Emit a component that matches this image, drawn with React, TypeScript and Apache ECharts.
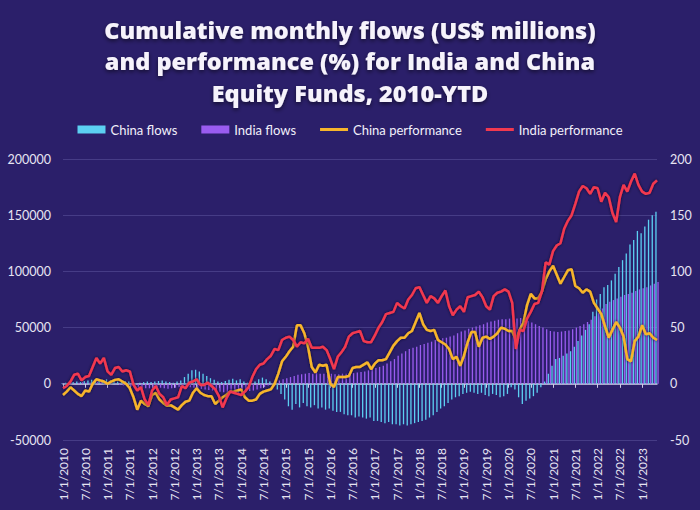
import React, { useEffect, useRef } from "react";
import * as echarts from "echarts";

const TITLE = "Cumulative monthly flows (US$ millions)\nand performance (%) for India and China\nEquity Funds, 2010-YTD";
const START_YEAR = 2010;
const MONTH_COUNT = 161;

const chinaFlows: number[] = [
  500, 1000, 800, 1500, 2000, 1500, 2500, 3000, 3500, 4000,
  3000, 3500, 4000, 3000, 2500, 2000, 1500, 2500, 2000, 1000,
  500, 1000, 1500, 2000, 1500, 2000, 2500, 3000, 2000, 1500,
  1000, 2000, 3000, 6000, 9000, 12000, 12500, 11000, 9000, 7000,
  5000, 3500, 2000, 1500, 2500, 3500, 4500, 3000, 4000, 2000,
  1000, 500, 2000, 4000, 5500, 4000, 2000, -1000, -5000, -9000,
  -14000, -20000, -23000, -18000, -21000, -17000, -20000, -21000, -19000, -22000,
  -21000, -23000, -22000, -24000, -25000, -25000, -27000, -28000, -28000, -30000,
  -29000, -30000, -31000, -30000, -33000, -33000, -34000, -35000, -34000, -36000,
  -36000, -37000, -36000, -37000, -36000, -35000, -34000, -33000, -32000, -30000,
  -28000, -25000, -22000, -20000, -17000, -14000, -12000, -11000, -9000, -8000,
  -7000, -8000, -9000, -8000, -10000, -11000, -9000, -10000, -12000, -11000,
  -9000, -3000, -5000, -12000, -18000, -15000, -13000, -11000, -8000, -3000,
  2000, 9000, 16000, 22000, 23000, 25000, 27000, 29000, 33000, 38000,
  43000, 48000, 53000, 64000, 75000, 80000, 86000, 88000, 92000, 98000,
  104000, 110000, 116000, 124000, 128000, 136000, 134000, 140000, 146000, 150000,
  153000,
];

const indiaFlows: number[] = [
  500, 800, 1000, 500, 1000, 1500, 1000, 1200, 1500, 2000,
  1500, 1000, 500, 0, -500, -1000, -1500, -2000, -2500, -3000,
  -3500, -3500, -4000, -4000, -3500, -3000, -3500, -4000, -4500, -4000,
  -3500, -3000, -3000, -2500, -3000, -3500, -4000, -4500, -5000, -5500,
  -6000, -6500, -7000, -7500, -8000, -8000, -8500, -8000, -7500, -7000,
  -6500, -6000, -5000, -4000, -3000, -1500, 0, 1500, 3000, 4000,
  5000, 6000, 7000, 8000, 8500, 9000, 9500, 9000, 9500, 9000,
  9000, 8500, 9000, 8500, 8500, 9000, 9000, 9500, 9500, 10000,
  10500, 11000, 12000, 13000, 14000, 15000, 16000, 18000, 20000, 22000,
  25000, 27000, 29000, 31000, 32000, 33000, 34500, 35500, 36500, 37500,
  39000, 40000, 40500, 41000, 42000, 43000, 45000, 46500, 47500, 49000,
  50000, 51000, 52000, 53000, 54500, 55500, 56000, 57000, 57500, 57500,
  58000, 57000, 58000, 58500, 57500, 56000, 54500, 53000, 51500, 50000,
  48500, 47000, 46500, 46000, 46500, 47000, 47500, 48500, 50000, 51500,
  53000, 55000, 57000, 60000, 63000, 67000, 71000, 73000, 74500, 76000,
  77500, 79000, 80000, 81000, 82500, 84000, 85000, 86000, 87500, 89000,
  90500,
];

const chinaPerformance: number[] = [
  -10, -7, -3, -6, -9, -11, -6, -7, 0, 4,
  3, 2, 0, 2, 3.5, 4, 2, 0, -4, -12,
  -23, -15, -18, -20, -10, -8, -14, -17, -19.5, -19,
  -21, -23, -19, -16, -15, -8, -4, -8, -10, -11,
  -11, -18, -15, -12, -10, -7, -7, -6, -5, -12,
  -15, -15, -14, -9, -7, -6, -5, 0, 9, 20,
  24, 29, 33, 52, 52, 45, 33, 15, 10, 17,
  16, 17, 0, -3, 6, 6, 6, 7, 14, 15,
  15, 17, 19, 13, 18, 21, 21, 22, 28, 34,
  38, 41, 41, 45, 47, 55, 63, 53, 48, 47,
  48, 39, 37, 35, 31, 22, 24, 16, 25, 37,
  46, 46, 33, 41, 42, 40, 42, 45, 50, 49,
  47, 47, 39, 48, 54, 70, 80, 76, 76, 82,
  93, 100, 105, 97, 89, 95, 101, 102, 87, 85,
  81, 84, 82, 72, 67, 62, 51, 41, 48, 55,
  50, 42, 22, 20, 38, 42, 52, 44, 45, 41,
  39,
];

const indiaPerformance: number[] = [
  -4, -2, 2, 8, 9, 3, 6, 7, 15, 23,
  18, 23, 11, 8, 14, 15, 11, 12, 11, -1,
  -6, -3, -14, -19, -6, -2, -9, -12, -19, -14,
  -13, -12, -2, -4, 1, 2, 4, -1, -1, 1,
  -2, -5, -11, -21, -13, -7, -8, -9, -10, -7,
  -3, 6, 13, 17, 18, 22, 25, 31, 30, 39,
  41, 42, 39, 33, 37, 36, 40, 32, 32, 32,
  33, 30, 22, 13, 24, 28, 33, 42, 45, 46,
  47, 38, 37, 37, 43, 50, 55, 62, 63, 64,
  72, 69, 67, 75, 79, 85, 86, 79, 72, 78,
  76, 72, 78, 83, 69, 61, 66, 69, 64, 77,
  78, 79, 82, 77, 69, 66, 78, 81, 82, 84,
  82, 72, 31, 48, 47, 58, 64, 71, 72, 82,
  108, 106, 118, 123, 125, 138, 145, 150, 160, 171,
  176, 174, 169, 175, 174, 162, 170, 166, 152, 144,
  166, 177, 171, 180, 187, 177, 171, 169, 170, 178,
  181,
];

const leftTicks = { min: -50000, max: 200000, interval: 50000 };
const rightTicks = { min: -50, max: 200, interval: 50 };

const categories: string[] = [];
for (let i = 0; i < MONTH_COUNT; i++) {
  categories.push(`${(i % 12) + 1}/1/${START_YEAR + Math.floor(i / 12)}`);
}

const TEXT = "#e6e4f2";
const FONT = "Lato";
const LINE_ICON = "path://M0,0 L28,0 L28,3 L0,3 Z";

export default function App() {
  const ref = useRef<HTMLDivElement>(null);
  useEffect(() => {
    document.body.style.margin = "0";
    if (!ref.current) return;
    const chart = echarts.init(ref.current, undefined, { renderer: "svg" });
    const lineShadow = { shadowColor: "rgba(8,4,40,0.85)", shadowBlur: 3 };
    chart.setOption({
      animation: false,
      backgroundColor: "#2b1f6a",
      title: {
        text: TITLE,
        left: "center",
        top: 9,
        textStyle: {
          color: "#f6f3fb",
          fontFamily: "Open Sans",
          fontWeight: 800,
          fontSize: 23.5,
          lineHeight: 31.5,
          textShadowColor: "rgba(0,0,0,0.55)",
          textShadowBlur: 4,
          textShadowOffsetY: 2,
        },
      },
      legend: {
        top: 118,
        left: "center",
        itemGap: 24,
        itemWidth: 28,
        itemHeight: 8,
        textStyle: { color: "#f2f0fa", fontFamily: FONT, fontSize: 13 },
        data: [
          { name: "China flows", icon: "rect" },
          { name: "India flows", icon: "rect" },
          { name: "China performance", icon: LINE_ICON },
          { name: "India performance", icon: LINE_ICON },
        ],
      },
      grid: { left: 63, right: 43, top: 159, bottom: 70, outerBoundsMode: "none", containLabel: false },
      xAxis: {
        type: "category",
        data: categories,
        boundaryGap: false,
        axisLine: { onZero: true, lineStyle: { color: "#cfcbe6", width: 1.5 } },
        axisTick: { show: true, interval: 5, length: 4, lineStyle: { color: "#cfcbe6" } },
        axisLabel: {
          interval: 5,
          rotate: 90,
          margin: 8,
          color: TEXT,
          fontFamily: FONT,
          fontSize: 12,
        },
        splitLine: { show: false },
      },
      yAxis: [
        {
          type: "value",
          ...leftTicks,
          axisLine: { show: false },
          axisTick: { show: false },
          axisLabel: {
            color: TEXT,
            fontFamily: FONT,
            fontSize: 12.5,
            margin: 12,
            formatter: (v: number) => String(v),
          },
          splitLine: { lineStyle: { color: "#463c86", width: 1 } },
        },
        {
          type: "value",
          position: "right",
          ...rightTicks,
          axisLine: { show: false },
          axisTick: { show: false },
          axisLabel: {
            color: TEXT,
            fontFamily: FONT,
            fontSize: 12.5,
            margin: 13,
            formatter: (v: number) => String(v),
          },
          splitLine: { show: false },
        },
      ],
      series: [
        {
          name: "China flows",
          type: "bar",
          data: chinaFlows,
          barWidth: 1.3,
          barGap: "60%",
          itemStyle: { color: "#5cd0f2" },
        },
        {
          name: "India flows",
          type: "bar",
          data: indiaFlows,
          barWidth: 1.3,
          barGap: "60%",
          itemStyle: { color: "#9a5cf0" },
        },
        {
          name: "China performance",
          type: "line",
          yAxisIndex: 1,
          data: chinaPerformance,
          symbol: "none",
          itemStyle: { color: "#f7b52b" },
          lineStyle: { color: "#f7b52b", width: 2.5, ...lineShadow },
        },
        {
          name: "India performance",
          type: "line",
          yAxisIndex: 1,
          data: indiaPerformance,
          symbol: "none",
          itemStyle: { color: "#f2394f" },
          lineStyle: { color: "#f2394f", width: 2.5, ...lineShadow },
        },
      ],
    });
    return () => chart.dispose();
  }, []);
  return <div ref={ref} style={{ width: 700, height: 510 }} />;
}
